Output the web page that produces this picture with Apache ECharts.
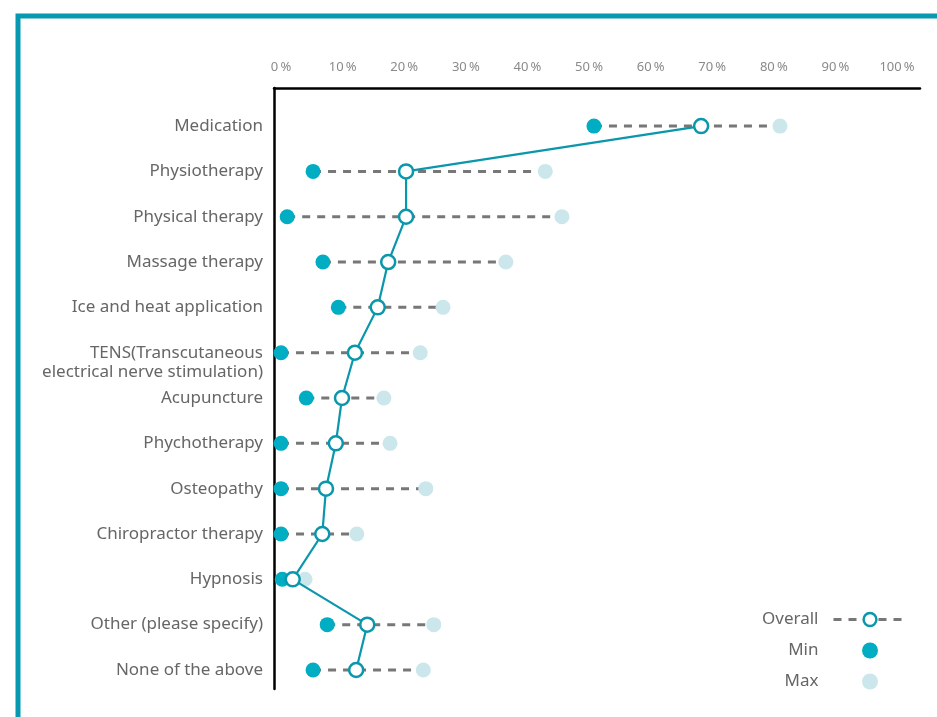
<!DOCTYPE html>
<html>
<head>
<meta charset="utf-8">
<script src="https://cdn.jsdelivr.net/npm/echarts@6/dist/echarts.min.js"></script>
<style>
  html, body { margin: 0; padding: 0; background: #ffffff; }
  #chart { width: 937px; height: 717px; }
</style>
</head>
<body>
<div id="chart"></div>
<script>
// Treatments, top to bottom
const treatments = [
  'Medication',
  'Physiotherapy',
  'Physical therapy',
  'Massage therapy',
  'Ice and heat application',
  'TENS(Transcutaneous\nelectrical nerve stimulation)',
  'Acupuncture',
  'Phychotherapy',
  'Osteopathy',
  'Chiropractor therapy',
  'Hypnosis',
  'Other (please specify)',
  'None of the above'
];

// Share of respondents (%)
const overallValues = [68.2, 20.3, 20.3, 17.4, 15.7, 12.0, 9.9, 8.9, 7.3, 6.7, 1.9, 14.0, 12.2];
const minValues     = [50.8, 5.2, 1.0, 6.8, 9.3, 0.0, 4.1, 0.0, 0.0, 0.0, 0.2, 7.5, 5.2];
const maxValues     = [81.0, 42.9, 45.6, 36.5, 26.3, 22.6, 16.7, 17.7, 23.5, 12.3, 3.9, 24.8, 23.1];

const percentTicks = [0, 10, 20, 30, 40, 50, 60, 70, 80, 90, 100];

const TEAL = '#0a97ac';
const MIN_COLOR = '#00adc2';
const MAX_COLOR = '#cbe7eb';
const DASH_COLOR = '#777777';
const FONT = '"Noto Sans", sans-serif';

const rowIndex = treatments.map((_, i) => i);
const rangeData = rowIndex.map(i => [minValues[i], i, maxValues[i]]);
const overallData = rowIndex.map(i => [overallValues[i], i]);
const minData = rowIndex.map(i => [minValues[i], i]);
const maxData = rowIndex.map(i => [maxValues[i], i]);

const chart = echarts.init(document.getElementById('chart'), null, { renderer: 'canvas' });

chart.setOption({
  animation: false,
  backgroundColor: '#ffffff',
  graphic: [{
    type: 'rect',
    z: -10,
    shape: { x: 18, y: 16, width: 1000, height: 800 },
    style: { fill: 'none', stroke: '#0799b0', lineWidth: 5 }
  }],
  grid: { left: 274, right: 17, top: 88, bottom: 28, containLabel: false },
  xAxis: {
    type: 'value',
    position: 'top',
    min: -1.14,
    max: 103.73,
    splitLine: { show: false },
    axisTick: { show: false },
    axisLine: { show: true, onZero: false, lineStyle: { color: '#000', width: 2.5 } },
    axisLabel: {
      customValues: percentTicks,
      formatter: v => v + '\u2009%',
      color: '#8a8a8a',
      fontFamily: FONT,
      fontSize: 13,
      margin: 14
    }
  },
  yAxis: {
    type: 'value',
    inverse: true,
    min: -0.84,
    max: 12.42,
    splitLine: { show: false },
    axisTick: { show: false },
    axisLine: { show: true, onZero: false, lineStyle: { color: '#000', width: 2.5 } },
    axisLabel: {
      customValues: rowIndex,
      formatter: v => {
        const t = treatments[v];
        return t.indexOf('\n') >= 0 ? '\n' + t : t;
      },
      color: '#666666',
      fontFamily: FONT,
      fontSize: 17,
      lineHeight: 19.5,
      margin: 11
    }
  },
  legend: {
    orient: 'vertical',
    right: 29,
    top: 611,
    padding: 0,
    align: 'right',
    itemWidth: 73,
    itemHeight: 16,
    itemGap: 14,
    textStyle: { color: '#666666', fontFamily: FONT, fontSize: 17, padding: [0, 10, 0, 0] },
    data: [
      {
        name: 'Overall',
        lineStyle: { color: DASH_COLOR, type: [8, 7], width: 3 },
        itemStyle: { color: '#ffffff', borderColor: TEAL, borderWidth: 2.5 }
      },
      { name: 'Min', icon: 'circle', itemStyle: { color: MIN_COLOR, opacity: 1 } },
      { name: 'Max', icon: 'circle', itemStyle: { color: MAX_COLOR, opacity: 1 } }
    ]
  },
  series: [
    {
      // dashed min–max range per treatment
      name: 'Range',
      type: 'custom',
      z: 1,
      silent: true,
      data: rangeData,
      encode: { x: [0, 2], y: 1 },
      renderItem: (params, api) => {
        const p1 = api.coord([api.value(0), api.value(1)]);
        const p2 = api.coord([api.value(2), api.value(1)]);
        return {
          type: 'line',
          shape: { x1: p1[0], y1: p1[1], x2: p2[0], y2: p2[1] },
          style: { stroke: DASH_COLOR, lineWidth: 3, lineDash: [8, 7] }
        };
      }
    },
    {
      name: 'Min',
      type: 'scatter',
      z: 2,
      symbol: 'circle',
      symbolSize: 15,
      itemStyle: { color: MIN_COLOR, opacity: 1 },
      data: minData
    },
    {
      name: 'Max',
      type: 'scatter',
      z: 2,
      symbol: 'circle',
      symbolSize: 15,
      itemStyle: { color: MAX_COLOR, opacity: 1 },
      data: maxData
    },
    {
      name: 'Overall',
      type: 'line',
      z: 3,
      symbol: 'circle',
      symbolSize: 14,
      showSymbol: true,
      lineStyle: { color: TEAL, width: 2.2 },
      itemStyle: { color: '#ffffff', borderColor: TEAL, borderWidth: 2.5 },
      data: overallData
    }
  ]
});
</script>
</body>
</html>
